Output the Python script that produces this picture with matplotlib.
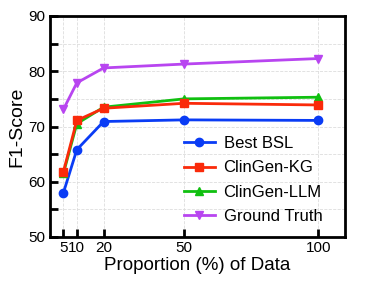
import numpy as np
import matplotlib
matplotlib.use('Agg')
import matplotlib.pyplot as plt

plt.rcParams['font.family'] = ['Liberation Sans', 'DejaVu Sans']

props = [5, 10, 20, 50, 100]
best_bsl = [58.0, 65.8, 70.9, 71.2, 71.1]
clingen_kg = [61.8, 71.1, 73.3, 74.2, 73.9]
clingen_llm = [61.5, 70.5, 73.5, 75.0, 75.3]
ground_truth = [73.1, 77.9, 80.6, 81.3, 82.3]

fig = plt.figure(figsize=(3.81, 2.84), dpi=100)
ax = fig.add_axes([50/381, 1-237/284, 295/381, 221/284])

ax.plot(props, best_bsl, '-o', color='#0a3cf5', lw=2, ms=6, label='Best BSL', zorder=3)
ax.plot(props, clingen_kg, '-s', color='#fa2a0a', lw=2, ms=6, label='ClinGen-KG', zorder=4)
ax.plot(props, clingen_llm, '-^', color='#10c010', lw=2, ms=6, label='ClinGen-LLM', zorder=3.5)
ax.plot(props, ground_truth, '-v', color='#b845f0', lw=2, ms=6, label='Ground Truth', zorder=3)

ax.set_xlim(0, 110)
ax.set_ylim(50, 90)
ax.set_xticks(props)
ax.set_yticks([50, 60, 70, 80, 90])
ax.set_yticks([55, 65, 75, 85], minor=True)
ax.grid(True, which='both', ls='--', lw=0.6, color='#dddddd')
ax.tick_params(which='both', direction='in', width=2, labelsize=11, length=6)
ax.tick_params(axis='x', pad=3)
for s in ax.spines.values():
    s.set_linewidth(2)

ax.set_xlabel('Proportion (%) of Data', fontsize=13.5, labelpad=1)
ax.set_ylabel('F1-Score', fontsize=14, labelpad=2)

ax.legend(loc='lower left', bbox_to_anchor=(0.43, 0.03), frameon=False, fontsize=12,
          handlelength=1.9, handletextpad=0.5, labelspacing=0.55, borderaxespad=0)

fig.savefig('out.png', dpi=100)
